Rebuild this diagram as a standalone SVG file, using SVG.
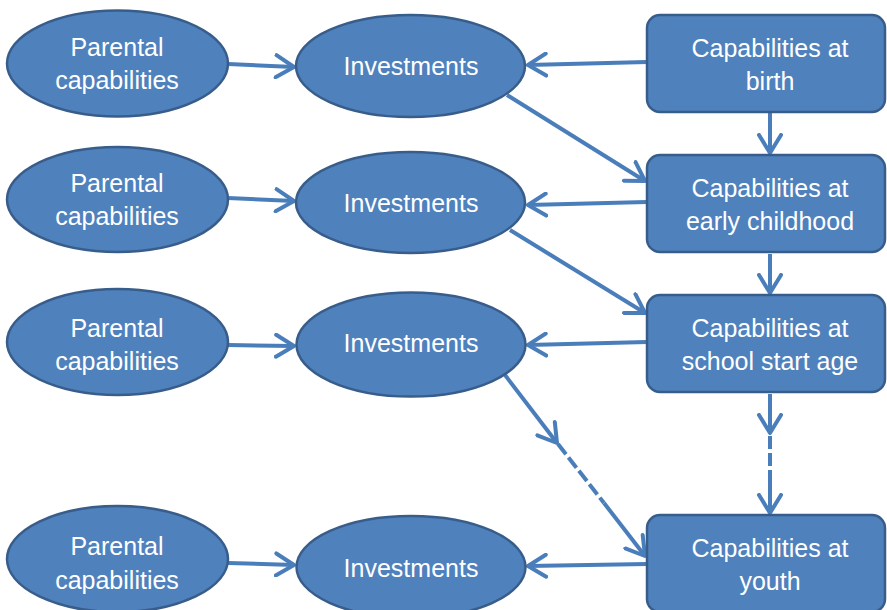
<svg xmlns="http://www.w3.org/2000/svg" width="887" height="610" viewBox="0 0 887 610">
<style>
.n{fill:#4f81bd;stroke:#385d8a;stroke-width:2.5}
.t{fill:#ffffff;font-family:"Liberation Sans",Arial,sans-serif;font-size:25px;text-anchor:middle}
.c{fill:none;stroke:#4a7ebb;stroke-width:4}
.d{stroke-dasharray:13 4}
</style>
<defs>
<marker id="a" markerUnits="userSpaceOnUse" viewBox="0 0 22 26" refX="20" refY="13" markerWidth="22" markerHeight="26" orient="auto">
<path d="M2,2 L20,13 L2,24" fill="none" stroke="#4a7ebb" stroke-width="4" stroke-linejoin="round" stroke-linecap="round"/>
</marker>
</defs>
<rect width="887" height="610" fill="#ffffff"/>
<g id="connectors">
<line class="c" x1="228" y1="64" x2="294" y2="67" marker-end="url(#a)"/>
<line class="c" x1="647" y1="62" x2="528" y2="65" marker-end="url(#a)"/>
<line class="c" x1="507" y1="95" x2="645" y2="181" marker-end="url(#a)"/>
<line class="c" x1="770" y1="113" x2="770" y2="153" marker-end="url(#a)"/>
<line class="c" x1="228" y1="198" x2="294" y2="201" marker-end="url(#a)"/>
<line class="c" x1="647" y1="202" x2="528" y2="205" marker-end="url(#a)"/>
<line class="c" x1="510" y1="230" x2="645" y2="313" marker-end="url(#a)"/>
<line class="c" x1="770" y1="254" x2="770" y2="293" marker-end="url(#a)"/>
<line class="c" x1="228" y1="345" x2="294" y2="346" marker-end="url(#a)"/>
<line class="c" x1="647" y1="342" x2="528" y2="345" marker-end="url(#a)"/>
<line class="c" x1="505" y1="375" x2="557" y2="443" marker-end="url(#a)"/>
<line class="c d" x1="558" y1="444" x2="604" y2="503"/>
<line class="c" x1="604" y1="503" x2="645" y2="556" marker-end="url(#a)"/>
<line class="c" x1="770" y1="394" x2="770" y2="433" marker-end="url(#a)"/>
<line class="c d" x1="770" y1="436" x2="770" y2="470"/>
<line class="c" x1="770" y1="470" x2="770" y2="513" marker-end="url(#a)"/>
<line class="c" x1="228" y1="563" x2="294" y2="565" marker-end="url(#a)"/>
<line class="c" x1="647" y1="564" x2="528" y2="566" marker-end="url(#a)"/>
</g>
<g id="parental1"><ellipse class="n" cx="117.5" cy="63.5" rx="110.5" ry="53"/><text class="t" x="117" y="56">Parental</text><text class="t" x="117" y="89">capabilities</text></g>
<g id="investments1"><ellipse class="n" cx="410.5" cy="66" rx="114.5" ry="51"/><text class="t" x="411" y="75">Investments</text></g>
<g id="birth"><rect class="n" x="647" y="15" width="238" height="97" rx="13"/><text class="t" x="770" y="57">Capabilities at</text><text class="t" x="770" y="90">birth</text></g>
<g id="parental2"><ellipse class="n" cx="117.5" cy="199.5" rx="110.5" ry="52.5"/><text class="t" x="117" y="192">Parental</text><text class="t" x="117" y="225">capabilities</text></g>
<g id="investments2"><ellipse class="n" cx="410.5" cy="202.5" rx="114.5" ry="50.5"/><text class="t" x="411" y="212">Investments</text></g>
<g id="early"><rect class="n" x="647" y="155" width="238" height="97" rx="13"/><text class="t" x="770" y="197">Capabilities at</text><text class="t" x="770" y="230">early childhood</text></g>
<g id="parental3"><ellipse class="n" cx="117.5" cy="342" rx="110.5" ry="53"/><text class="t" x="117" y="337">Parental</text><text class="t" x="117" y="370">capabilities</text></g>
<g id="investments3"><ellipse class="n" cx="411" cy="344.5" rx="114.5" ry="52"/><text class="t" x="411" y="352">Investments</text></g>
<g id="school"><rect class="n" x="647" y="295" width="238" height="97" rx="13"/><text class="t" x="770" y="337">Capabilities at</text><text class="t" x="770" y="370">school start age</text></g>
<g id="parental4"><ellipse class="n" cx="117.5" cy="559" rx="110.5" ry="53"/><text class="t" x="117" y="555">Parental</text><text class="t" x="117" y="589">capabilities</text></g>
<g id="investments4"><ellipse class="n" cx="411" cy="567" rx="114.5" ry="51"/><text class="t" x="411" y="577">Investments</text></g>
<g id="youth"><rect class="n" x="647" y="515" width="238" height="97" rx="13"/><text class="t" x="770" y="557">Capabilities at</text><text class="t" x="770" y="590">youth</text></g>
</svg>
